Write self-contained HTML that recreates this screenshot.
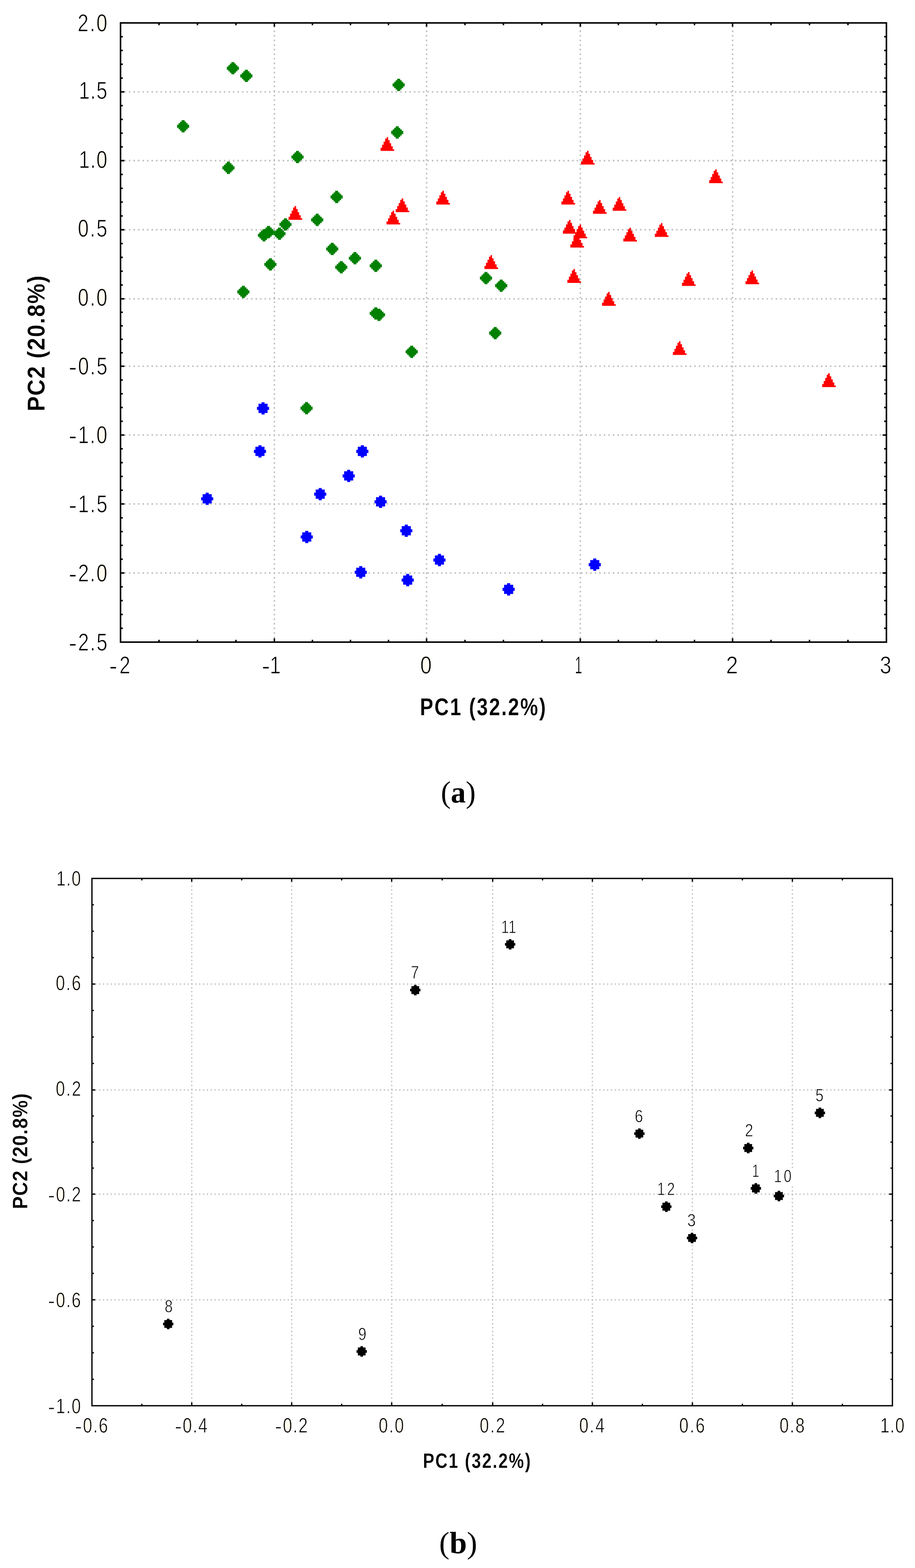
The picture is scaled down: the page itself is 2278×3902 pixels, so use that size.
<!DOCTYPE html>
<html lang="en"><head><meta charset="utf-8"><title>PCA score and loading plots</title>
<style>
html,body{margin:0;padding:0;background:#ffffff;}
body{width:2278px;height:3902px;}
svg{display:block;}
.t{font-family:"Liberation Sans",sans-serif;fill:#000;}
.tb{font-family:"Liberation Sans",sans-serif;font-weight:bold;fill:#000;}
.cap{font-family:"Liberation Serif",serif;fill:#000;}
.g{stroke:#c0c0c0;fill:none;}
.k{fill:#000;}
</style></head>
<body>
<svg width="2278" height="3902" viewBox="0 0 2278 3902">
<rect x="0" y="0" width="2278" height="3902" fill="#ffffff"/>
<g id="plot-a">
<line class="g" x1="309.58" y1="228.6" x2="2204.95" y2="228.6" stroke-width="3.81" stroke-dasharray="3.77 7.49"/>
<line class="g" x1="309.58" y1="399.75" x2="2204.95" y2="399.75" stroke-width="3.81" stroke-dasharray="3.77 7.49"/>
<line class="g" x1="309.58" y1="571.75" x2="2204.95" y2="571.75" stroke-width="3.81" stroke-dasharray="3.77 7.49"/>
<line class="g" x1="309.58" y1="743.65" x2="2204.95" y2="743.65" stroke-width="3.81" stroke-dasharray="3.77 7.49"/>
<line class="g" x1="309.58" y1="911.4" x2="2204.95" y2="911.4" stroke-width="3.81" stroke-dasharray="3.77 7.49"/>
<line class="g" x1="309.58" y1="1082.6" x2="2204.95" y2="1082.6" stroke-width="3.81" stroke-dasharray="3.77 7.49"/>
<line class="g" x1="309.58" y1="1254.2" x2="2204.95" y2="1254.2" stroke-width="3.81" stroke-dasharray="3.77 7.49"/>
<line class="g" x1="309.58" y1="1425.9" x2="2204.95" y2="1425.9" stroke-width="3.81" stroke-dasharray="3.77 7.49"/>
<line class="g" x1="683.1" y1="1588.43" x2="683.1" y2="58.93" stroke-width="3.77" stroke-dasharray="3.81 7.62"/>
<line class="g" x1="1062" y1="1588.43" x2="1062" y2="58.93" stroke-width="3.77" stroke-dasharray="3.81 7.62"/>
<line class="g" x1="1444.75" y1="1588.43" x2="1444.75" y2="58.93" stroke-width="3.77" stroke-dasharray="3.81 7.62"/>
<line class="g" x1="1823.8" y1="1588.43" x2="1823.8" y2="58.93" stroke-width="3.77" stroke-dasharray="3.81 7.62"/>
<rect x="300.08" y="57.03" width="1906.76" height="1540.9" fill="none" stroke="#000" stroke-width="3.8"/>
<path class="k" d="M300.08 226.7h9.5v3.8h-9.5zM2206.85 226.7h-9.5v3.8h9.5zM300.08 397.85h9.5v3.8h-9.5zM2206.85 397.85h-9.5v3.8h9.5zM300.08 569.85h9.5v3.8h-9.5zM2206.85 569.85h-9.5v3.8h9.5zM300.08 741.75h9.5v3.8h-9.5zM2206.85 741.75h-9.5v3.8h9.5zM300.08 909.5h9.5v3.8h-9.5zM2206.85 909.5h-9.5v3.8h9.5zM300.08 1080.7h9.5v3.8h-9.5zM2206.85 1080.7h-9.5v3.8h9.5zM300.08 1252.3h9.5v3.8h-9.5zM2206.85 1252.3h-9.5v3.8h9.5zM300.08 1424h9.5v3.8h-9.5zM2206.85 1424h-9.5v3.8h9.5zM300.08 89.44h5.7v3.8h-5.7zM2206.85 89.44h-5.7v3.8h5.7zM300.08 123.76h5.7v3.8h-5.7zM2206.85 123.76h-5.7v3.8h5.7zM300.08 158.07h5.7v3.8h-5.7zM2206.85 158.07h-5.7v3.8h5.7zM300.08 192.39h5.7v3.8h-5.7zM2206.85 192.39h-5.7v3.8h5.7zM300.08 260.93h5.7v3.8h-5.7zM2206.85 260.93h-5.7v3.8h5.7zM300.08 295.16h5.7v3.8h-5.7zM2206.85 295.16h-5.7v3.8h5.7zM300.08 329.39h5.7v3.8h-5.7zM2206.85 329.39h-5.7v3.8h5.7zM300.08 363.62h5.7v3.8h-5.7zM2206.85 363.62h-5.7v3.8h5.7zM300.08 432.25h5.7v3.8h-5.7zM2206.85 432.25h-5.7v3.8h5.7zM300.08 466.65h5.7v3.8h-5.7zM2206.85 466.65h-5.7v3.8h5.7zM300.08 501.05h5.7v3.8h-5.7zM2206.85 501.05h-5.7v3.8h5.7zM300.08 535.45h5.7v3.8h-5.7zM2206.85 535.45h-5.7v3.8h5.7zM300.08 604.23h5.7v3.8h-5.7zM2206.85 604.23h-5.7v3.8h5.7zM300.08 638.61h5.7v3.8h-5.7zM2206.85 638.61h-5.7v3.8h5.7zM300.08 672.99h5.7v3.8h-5.7zM2206.85 672.99h-5.7v3.8h5.7zM300.08 707.37h5.7v3.8h-5.7zM2206.85 707.37h-5.7v3.8h5.7zM300.08 775.3h5.7v3.8h-5.7zM2206.85 775.3h-5.7v3.8h5.7zM300.08 808.85h5.7v3.8h-5.7zM2206.85 808.85h-5.7v3.8h5.7zM300.08 842.4h5.7v3.8h-5.7zM2206.85 842.4h-5.7v3.8h5.7zM300.08 875.95h5.7v3.8h-5.7zM2206.85 875.95h-5.7v3.8h5.7zM300.08 943.74h5.7v3.8h-5.7zM2206.85 943.74h-5.7v3.8h5.7zM300.08 977.98h5.7v3.8h-5.7zM2206.85 977.98h-5.7v3.8h5.7zM300.08 1012.22h5.7v3.8h-5.7zM2206.85 1012.22h-5.7v3.8h5.7zM300.08 1046.46h5.7v3.8h-5.7zM2206.85 1046.46h-5.7v3.8h5.7zM300.08 1115.02h5.7v3.8h-5.7zM2206.85 1115.02h-5.7v3.8h5.7zM300.08 1149.34h5.7v3.8h-5.7zM2206.85 1149.34h-5.7v3.8h5.7zM300.08 1183.66h5.7v3.8h-5.7zM2206.85 1183.66h-5.7v3.8h5.7zM300.08 1217.98h5.7v3.8h-5.7zM2206.85 1217.98h-5.7v3.8h5.7zM300.08 1286.64h5.7v3.8h-5.7zM2206.85 1286.64h-5.7v3.8h5.7zM300.08 1320.98h5.7v3.8h-5.7zM2206.85 1320.98h-5.7v3.8h5.7zM300.08 1355.32h5.7v3.8h-5.7zM2206.85 1355.32h-5.7v3.8h5.7zM300.08 1389.66h5.7v3.8h-5.7zM2206.85 1389.66h-5.7v3.8h5.7zM300.08 1458.41h5.7v3.8h-5.7zM2206.85 1458.41h-5.7v3.8h5.7zM300.08 1492.81h5.7v3.8h-5.7zM2206.85 1492.81h-5.7v3.8h5.7zM300.08 1527.22h5.7v3.8h-5.7zM2206.85 1527.22h-5.7v3.8h5.7zM300.08 1561.62h5.7v3.8h-5.7zM2206.85 1561.62h-5.7v3.8h5.7zM681.2 57.03v9.5h3.8v-9.5zM681.2 1597.93v-9.5h3.8v9.5zM1060.1 57.03v9.5h3.8v-9.5zM1060.1 1597.93v-9.5h3.8v9.5zM1442.85 57.03v9.5h3.8v-9.5zM1442.85 1597.93v-9.5h3.8v9.5zM1821.9 57.03v9.5h3.8v-9.5zM1821.9 1597.93v-9.5h3.8v9.5zM393.94 57.03v5.7h3.8v-5.7zM393.94 1597.93v-5.7h3.8v5.7zM489.69 57.03v5.7h3.8v-5.7zM489.69 1597.93v-5.7h3.8v5.7zM585.45 57.03v5.7h3.8v-5.7zM585.45 1597.93v-5.7h3.8v5.7zM775.93 57.03v5.7h3.8v-5.7zM775.93 1597.93v-5.7h3.8v5.7zM870.65 57.03v5.7h3.8v-5.7zM870.65 1597.93v-5.7h3.8v5.7zM965.38 57.03v5.7h3.8v-5.7zM965.38 1597.93v-5.7h3.8v5.7zM1155.79 57.03v5.7h3.8v-5.7zM1155.79 1597.93v-5.7h3.8v5.7zM1251.47 57.03v5.7h3.8v-5.7zM1251.47 1597.93v-5.7h3.8v5.7zM1347.16 57.03v5.7h3.8v-5.7zM1347.16 1597.93v-5.7h3.8v5.7zM1537.61 57.03v5.7h3.8v-5.7zM1537.61 1597.93v-5.7h3.8v5.7zM1632.38 57.03v5.7h3.8v-5.7zM1632.38 1597.93v-5.7h3.8v5.7zM1727.14 57.03v5.7h3.8v-5.7zM1727.14 1597.93v-5.7h3.8v5.7zM1917.66 57.03v5.7h3.8v-5.7zM1917.66 1597.93v-5.7h3.8v5.7zM2013.42 57.03v5.7h3.8v-5.7zM2013.42 1597.93v-5.7h3.8v5.7zM2109.19 57.03v5.7h3.8v-5.7zM2109.19 1597.93v-5.7h3.8v5.7z"/>
<path fill="#008000" d="M576.03 154.54h7.54v3.86h-7.54zM572.26 158.36h15.08v3.86h-15.08zM568.49 162.17h22.62v3.86h-22.62zM564.72 165.99h30.16v3.86h-30.16zM564.72 169.8h30.16v3.86h-30.16zM568.49 173.61h22.62v3.86h-22.62zM572.26 177.43h15.08v3.86h-15.08zM576.03 181.24h7.54v3.86h-7.54zM609.53 173.54h7.54v3.86h-7.54zM605.76 177.36h15.08v3.86h-15.08zM601.99 181.17h22.62v3.86h-22.62zM598.22 184.99h30.16v3.86h-30.16zM598.22 188.8h30.16v3.86h-30.16zM601.99 192.61h22.62v3.86h-22.62zM605.76 196.43h15.08v3.86h-15.08zM609.53 200.24h7.54v3.86h-7.54zM988.73 196.04h7.54v3.86h-7.54zM984.96 199.86h15.08v3.86h-15.08zM981.19 203.67h22.62v3.86h-22.62zM977.42 207.49h30.16v3.86h-30.16zM977.42 211.3h30.16v3.86h-30.16zM981.19 215.11h22.62v3.86h-22.62zM984.96 218.93h15.08v3.86h-15.08zM988.73 222.74h7.54v3.86h-7.54zM452.13 298.94h7.54v3.86h-7.54zM448.36 302.76h15.08v3.86h-15.08zM444.59 306.57h22.62v3.86h-22.62zM440.82 310.39h30.16v3.86h-30.16zM440.82 314.2h30.16v3.86h-30.16zM444.59 318.01h22.62v3.86h-22.62zM448.36 321.83h15.08v3.86h-15.08zM452.13 325.64h7.54v3.86h-7.54zM985.13 314.34h7.54v3.86h-7.54zM981.36 318.16h15.08v3.86h-15.08zM977.59 321.97h22.62v3.86h-22.62zM973.82 325.79h30.16v3.86h-30.16zM973.82 329.6h30.16v3.86h-30.16zM977.59 333.41h22.62v3.86h-22.62zM981.36 337.23h15.08v3.86h-15.08zM985.13 341.04h7.54v3.86h-7.54zM736.93 375.44h7.54v3.86h-7.54zM733.16 379.26h15.08v3.86h-15.08zM729.39 383.07h22.62v3.86h-22.62zM725.62 386.89h30.16v3.86h-30.16zM725.62 390.7h30.16v3.86h-30.16zM729.39 394.51h22.62v3.86h-22.62zM733.16 398.33h15.08v3.86h-15.08zM736.93 402.14h7.54v3.86h-7.54zM565.03 402.34h7.54v3.86h-7.54zM561.26 406.16h15.08v3.86h-15.08zM557.49 409.97h22.62v3.86h-22.62zM553.72 413.79h30.16v3.86h-30.16zM553.72 417.6h30.16v3.86h-30.16zM557.49 421.41h22.62v3.86h-22.62zM561.26 425.23h15.08v3.86h-15.08zM565.03 429.04h7.54v3.86h-7.54zM834.33 474.84h7.54v3.86h-7.54zM830.56 478.66h15.08v3.86h-15.08zM826.79 482.47h22.62v3.86h-22.62zM823.02 486.29h30.16v3.86h-30.16zM823.02 490.1h30.16v3.86h-30.16zM826.79 493.91h22.62v3.86h-22.62zM830.56 497.73h15.08v3.86h-15.08zM834.33 501.54h7.54v3.86h-7.54zM785.93 531.84h7.54v3.86h-7.54zM782.16 535.66h15.08v3.86h-15.08zM778.39 539.47h22.62v3.86h-22.62zM774.62 543.29h30.16v3.86h-30.16zM774.62 547.1h30.16v3.86h-30.16zM778.39 550.91h22.62v3.86h-22.62zM782.16 554.73h15.08v3.86h-15.08zM785.93 558.54h7.54v3.86h-7.54zM706.93 543.24h7.54v3.86h-7.54zM703.16 547.06h15.08v3.86h-15.08zM699.39 550.87h22.62v3.86h-22.62zM695.62 554.69h30.16v3.86h-30.16zM695.62 558.5h30.16v3.86h-30.16zM699.39 562.31h22.62v3.86h-22.62zM703.16 566.13h15.08v3.86h-15.08zM706.93 569.94h7.54v3.86h-7.54zM664.93 562.24h7.54v3.86h-7.54zM661.16 566.06h15.08v3.86h-15.08zM657.39 569.87h22.62v3.86h-22.62zM653.62 573.69h30.16v3.86h-30.16zM653.62 577.5h30.16v3.86h-30.16zM657.39 581.31h22.62v3.86h-22.62zM661.16 585.13h15.08v3.86h-15.08zM664.93 588.94h7.54v3.86h-7.54zM653.43 570.24h7.54v3.86h-7.54zM649.66 574.06h15.08v3.86h-15.08zM645.89 577.87h22.62v3.86h-22.62zM642.12 581.69h30.16v3.86h-30.16zM642.12 585.5h30.16v3.86h-30.16zM645.89 589.31h22.62v3.86h-22.62zM649.66 593.13h15.08v3.86h-15.08zM653.43 596.94h7.54v3.86h-7.54zM691.93 566.24h7.54v3.86h-7.54zM688.16 570.06h15.08v3.86h-15.08zM684.39 573.87h22.62v3.86h-22.62zM680.62 577.69h30.16v3.86h-30.16zM680.62 581.5h30.16v3.86h-30.16zM684.39 585.31h22.62v3.86h-22.62zM688.16 589.13h15.08v3.86h-15.08zM691.93 592.94h7.54v3.86h-7.54zM823.33 604.24h7.54v3.86h-7.54zM819.56 608.06h15.08v3.86h-15.08zM815.79 611.87h22.62v3.86h-22.62zM812.02 615.69h30.16v3.86h-30.16zM812.02 619.5h30.16v3.86h-30.16zM815.79 623.31h22.62v3.86h-22.62zM819.56 627.13h15.08v3.86h-15.08zM823.33 630.94h7.54v3.86h-7.54zM879.83 627.24h7.54v3.86h-7.54zM876.06 631.06h15.08v3.86h-15.08zM872.29 634.87h22.62v3.86h-22.62zM868.52 638.69h30.16v3.86h-30.16zM868.52 642.5h30.16v3.86h-30.16zM872.29 646.31h22.62v3.86h-22.62zM876.06 650.13h15.08v3.86h-15.08zM879.83 653.94h7.54v3.86h-7.54zM669.43 642.74h7.54v3.86h-7.54zM665.66 646.56h15.08v3.86h-15.08zM661.89 650.37h22.62v3.86h-22.62zM658.12 654.19h30.16v3.86h-30.16zM658.12 658h30.16v3.86h-30.16zM661.89 661.81h22.62v3.86h-22.62zM665.66 665.63h15.08v3.86h-15.08zM669.43 669.44h7.54v3.86h-7.54zM845.83 649.74h7.54v3.86h-7.54zM842.06 653.56h15.08v3.86h-15.08zM838.29 657.37h22.62v3.86h-22.62zM834.52 661.19h30.16v3.86h-30.16zM834.52 665h30.16v3.86h-30.16zM838.29 668.81h22.62v3.86h-22.62zM842.06 672.63h15.08v3.86h-15.08zM845.83 676.44h7.54v3.86h-7.54zM931.83 646.24h7.54v3.86h-7.54zM928.06 650.06h15.08v3.86h-15.08zM924.29 653.87h22.62v3.86h-22.62zM920.52 657.69h30.16v3.86h-30.16zM920.52 661.5h30.16v3.86h-30.16zM924.29 665.31h22.62v3.86h-22.62zM928.06 669.13h15.08v3.86h-15.08zM931.83 672.94h7.54v3.86h-7.54zM602.03 711.14h7.54v3.86h-7.54zM598.26 714.96h15.08v3.86h-15.08zM594.49 718.77h22.62v3.86h-22.62zM590.72 722.59h30.16v3.86h-30.16zM590.72 726.4h30.16v3.86h-30.16zM594.49 730.21h22.62v3.86h-22.62zM598.26 734.03h15.08v3.86h-15.08zM602.03 737.84h7.54v3.86h-7.54zM931.83 764.64h7.54v3.86h-7.54zM928.06 768.46h15.08v3.86h-15.08zM924.29 772.27h22.62v3.86h-22.62zM920.52 776.09h30.16v3.86h-30.16zM920.52 779.9h30.16v3.86h-30.16zM924.29 783.71h22.62v3.86h-22.62zM928.06 787.53h15.08v3.86h-15.08zM931.83 791.34h7.54v3.86h-7.54zM939.73 768.14h7.54v3.86h-7.54zM935.96 771.96h15.08v3.86h-15.08zM932.19 775.77h22.62v3.86h-22.62zM928.42 779.59h30.16v3.86h-30.16zM928.42 783.4h30.16v3.86h-30.16zM932.19 787.21h22.62v3.86h-22.62zM935.96 791.03h15.08v3.86h-15.08zM939.73 794.84h7.54v3.86h-7.54zM1206.13 676.74h7.54v3.86h-7.54zM1202.36 680.56h15.08v3.86h-15.08zM1198.59 684.37h22.62v3.86h-22.62zM1194.82 688.19h30.16v3.86h-30.16zM1194.82 692h30.16v3.86h-30.16zM1198.59 695.81h22.62v3.86h-22.62zM1202.36 699.63h15.08v3.86h-15.08zM1206.13 703.44h7.54v3.86h-7.54zM1244.03 695.64h7.54v3.86h-7.54zM1240.26 699.46h15.08v3.86h-15.08zM1236.49 703.27h22.62v3.86h-22.62zM1232.72 707.09h30.16v3.86h-30.16zM1232.72 710.9h30.16v3.86h-30.16zM1236.49 714.71h22.62v3.86h-22.62zM1240.26 718.53h15.08v3.86h-15.08zM1244.03 722.34h7.54v3.86h-7.54zM1229.13 813.64h7.54v3.86h-7.54zM1225.36 817.46h15.08v3.86h-15.08zM1221.59 821.27h22.62v3.86h-22.62zM1217.82 825.09h30.16v3.86h-30.16zM1217.82 828.9h30.16v3.86h-30.16zM1221.59 832.71h22.62v3.86h-22.62zM1225.36 836.53h15.08v3.86h-15.08zM1229.13 840.34h7.54v3.86h-7.54zM1021.23 860.14h7.54v3.86h-7.54zM1017.46 863.96h15.08v3.86h-15.08zM1013.69 867.77h22.62v3.86h-22.62zM1009.92 871.59h30.16v3.86h-30.16zM1009.92 875.4h30.16v3.86h-30.16zM1013.69 879.21h22.62v3.86h-22.62zM1017.46 883.03h15.08v3.86h-15.08zM1021.23 886.84h7.54v3.86h-7.54zM759.43 1000.54h7.54v3.86h-7.54zM755.66 1004.36h15.08v3.86h-15.08zM751.89 1008.17h22.62v3.86h-22.62zM748.12 1011.99h30.16v3.86h-30.16zM748.12 1015.8h30.16v3.86h-30.16zM751.89 1019.61h22.62v3.86h-22.62zM755.66 1023.43h15.08v3.86h-15.08zM759.43 1027.24h7.54v3.86h-7.54z"/>
<path fill="#ff0000" d="M962.57 341.13h3.77v3.86h-3.77zM958.79 344.95h7.54v3.86h-7.54zM958.79 348.76h11.31v3.86h-11.31zM955.02 352.58h15.08v3.86h-15.08zM955.02 356.39h18.85v3.86h-18.85zM951.25 360.21h22.62v3.86h-22.62zM951.25 364.02h26.39v3.86h-26.39zM947.49 367.84h30.16v3.86h-30.16zM947.49 371.65h33.93v3.86h-33.93zM733.51 512.73h3.77v3.86h-3.77zM729.74 516.55h7.54v3.86h-7.54zM729.74 520.36h11.31v3.86h-11.31zM725.97 524.18h15.08v3.86h-15.08zM725.97 527.99h18.85v3.86h-18.85zM722.2 531.81h22.62v3.86h-22.62zM722.2 535.62h26.39v3.86h-26.39zM718.43 539.44h30.16v3.86h-30.16zM718.43 543.25h33.93v3.86h-33.93zM1000.12 493.73h3.77v3.86h-3.77zM996.34 497.55h7.54v3.86h-7.54zM996.34 501.36h11.31v3.86h-11.31zM992.57 505.18h15.08v3.86h-15.08zM992.57 508.99h18.85v3.86h-18.85zM988.8 512.81h22.62v3.86h-22.62zM988.8 516.62h26.39v3.86h-26.39zM985.03 520.44h30.16v3.86h-30.16zM985.03 524.25h33.93v3.86h-33.93zM977.41 524.23h3.77v3.86h-3.77zM973.64 528.05h7.54v3.86h-7.54zM973.64 531.86h11.31v3.86h-11.31zM969.87 535.68h15.08v3.86h-15.08zM969.87 539.49h18.85v3.86h-18.85zM966.1 543.31h22.62v3.86h-22.62zM966.1 547.12h26.39v3.86h-26.39zM962.33 550.94h30.16v3.86h-30.16zM962.33 554.75h33.93v3.86h-33.93zM1461.52 375.23h3.77v3.86h-3.77zM1457.75 379.05h7.54v3.86h-7.54zM1457.75 382.86h11.31v3.86h-11.31zM1453.98 386.68h15.08v3.86h-15.08zM1453.98 390.49h18.85v3.86h-18.85zM1450.21 394.31h22.62v3.86h-22.62zM1450.21 398.12h26.39v3.86h-26.39zM1446.44 401.94h30.16v3.86h-30.16zM1446.44 405.75h33.93v3.86h-33.93zM1101.32 474.63h3.77v3.86h-3.77zM1097.55 478.45h7.54v3.86h-7.54zM1097.55 482.26h11.31v3.86h-11.31zM1093.78 486.08h15.08v3.86h-15.08zM1093.78 489.89h18.85v3.86h-18.85zM1090.01 493.71h22.62v3.86h-22.62zM1090.01 497.52h26.39v3.86h-26.39zM1086.24 501.34h30.16v3.86h-30.16zM1086.24 505.15h33.93v3.86h-33.93zM1412.82 474.63h3.77v3.86h-3.77zM1409.05 478.45h7.54v3.86h-7.54zM1409.05 482.26h11.31v3.86h-11.31zM1405.28 486.08h15.08v3.86h-15.08zM1405.28 489.89h18.85v3.86h-18.85zM1401.51 493.71h22.62v3.86h-22.62zM1401.51 497.52h26.39v3.86h-26.39zM1397.74 501.34h30.16v3.86h-30.16zM1397.74 505.15h33.93v3.86h-33.93zM1491.52 497.63h3.77v3.86h-3.77zM1487.75 501.45h7.54v3.86h-7.54zM1487.75 505.26h11.31v3.86h-11.31zM1483.98 509.08h15.08v3.86h-15.08zM1483.98 512.89h18.85v3.86h-18.85zM1480.21 516.71h22.62v3.86h-22.62zM1480.21 520.52h26.39v3.86h-26.39zM1476.44 524.34h30.16v3.86h-30.16zM1476.44 528.15h33.93v3.86h-33.93zM1540.52 490.13h3.77v3.86h-3.77zM1536.75 493.95h7.54v3.86h-7.54zM1536.75 497.76h11.31v3.86h-11.31zM1532.98 501.58h15.08v3.86h-15.08zM1532.98 505.39h18.85v3.86h-18.85zM1529.21 509.21h22.62v3.86h-22.62zM1529.21 513.02h26.39v3.86h-26.39zM1525.44 516.84h30.16v3.86h-30.16zM1525.44 520.65h33.93v3.86h-33.93zM1416.62 547.13h3.77v3.86h-3.77zM1412.85 550.95h7.54v3.86h-7.54zM1412.85 554.76h11.31v3.86h-11.31zM1409.08 558.58h15.08v3.86h-15.08zM1409.08 562.39h18.85v3.86h-18.85zM1405.31 566.21h22.62v3.86h-22.62zM1405.31 570.02h26.39v3.86h-26.39zM1401.54 573.84h30.16v3.86h-30.16zM1401.54 577.65h33.93v3.86h-33.93zM1443.12 558.63h3.77v3.86h-3.77zM1439.35 562.45h7.54v3.86h-7.54zM1439.35 566.26h11.31v3.86h-11.31zM1435.58 570.08h15.08v3.86h-15.08zM1435.58 573.89h18.85v3.86h-18.85zM1431.81 577.71h22.62v3.86h-22.62zM1431.81 581.52h26.39v3.86h-26.39zM1428.04 585.34h30.16v3.86h-30.16zM1428.04 589.15h33.93v3.86h-33.93zM1435.12 581.63h3.77v3.86h-3.77zM1431.35 585.45h7.54v3.86h-7.54zM1431.35 589.26h11.31v3.86h-11.31zM1427.58 593.08h15.08v3.86h-15.08zM1427.58 596.89h18.85v3.86h-18.85zM1423.81 600.71h22.62v3.86h-22.62zM1423.81 604.52h26.39v3.86h-26.39zM1420.04 608.34h30.16v3.86h-30.16zM1420.04 612.15h33.93v3.86h-33.93zM1567.02 566.63h3.77v3.86h-3.77zM1563.25 570.45h7.54v3.86h-7.54zM1563.25 574.26h11.31v3.86h-11.31zM1559.48 578.08h15.08v3.86h-15.08zM1559.48 581.89h18.85v3.86h-18.85zM1555.71 585.71h22.62v3.86h-22.62zM1555.71 589.52h26.39v3.86h-26.39zM1551.94 593.34h30.16v3.86h-30.16zM1551.94 597.15h33.93v3.86h-33.93zM1645.41 555.13h3.77v3.86h-3.77zM1641.64 558.95h7.54v3.86h-7.54zM1641.64 562.76h11.31v3.86h-11.31zM1637.88 566.58h15.08v3.86h-15.08zM1637.88 570.39h18.85v3.86h-18.85zM1634.11 574.21h22.62v3.86h-22.62zM1634.11 578.02h26.39v3.86h-26.39zM1630.34 581.84h30.16v3.86h-30.16zM1630.34 585.65h33.93v3.86h-33.93zM1221.21 635.03h3.77v3.86h-3.77zM1217.44 638.85h7.54v3.86h-7.54zM1217.44 642.66h11.31v3.86h-11.31zM1213.67 646.48h15.08v3.86h-15.08zM1213.67 650.29h18.85v3.86h-18.85zM1209.9 654.11h22.62v3.86h-22.62zM1209.9 657.92h26.39v3.86h-26.39zM1206.13 661.74h30.16v3.86h-30.16zM1206.13 665.55h33.93v3.86h-33.93zM1427.62 669.53h3.77v3.86h-3.77zM1423.85 673.35h7.54v3.86h-7.54zM1423.85 677.16h11.31v3.86h-11.31zM1420.08 680.98h15.08v3.86h-15.08zM1420.08 684.79h18.85v3.86h-18.85zM1416.31 688.61h22.62v3.86h-22.62zM1416.31 692.42h26.39v3.86h-26.39zM1412.54 696.24h30.16v3.86h-30.16zM1412.54 700.05h33.93v3.86h-33.93zM1712.91 677.03h3.77v3.86h-3.77zM1709.14 680.85h7.54v3.86h-7.54zM1709.14 684.66h11.31v3.86h-11.31zM1705.38 688.48h15.08v3.86h-15.08zM1705.38 692.29h18.85v3.86h-18.85zM1701.61 696.11h22.62v3.86h-22.62zM1701.61 699.92h26.39v3.86h-26.39zM1697.84 703.74h30.16v3.86h-30.16zM1697.84 707.55h33.93v3.86h-33.93zM1514.02 726.53h3.77v3.86h-3.77zM1510.25 730.35h7.54v3.86h-7.54zM1510.25 734.16h11.31v3.86h-11.31zM1506.48 737.98h15.08v3.86h-15.08zM1506.48 741.79h18.85v3.86h-18.85zM1502.71 745.61h22.62v3.86h-22.62zM1502.71 749.42h26.39v3.86h-26.39zM1498.94 753.24h30.16v3.86h-30.16zM1498.94 757.05h33.93v3.86h-33.93zM1780.62 421.43h3.77v3.86h-3.77zM1776.85 425.25h7.54v3.86h-7.54zM1776.85 429.06h11.31v3.86h-11.31zM1773.08 432.88h15.08v3.86h-15.08zM1773.08 436.69h18.85v3.86h-18.85zM1769.31 440.51h22.62v3.86h-22.62zM1769.31 444.32h26.39v3.86h-26.39zM1765.54 448.14h30.16v3.86h-30.16zM1765.54 451.95h33.93v3.86h-33.93zM1690.41 848.93h3.77v3.86h-3.77zM1686.64 852.75h7.54v3.86h-7.54zM1686.64 856.56h11.31v3.86h-11.31zM1682.88 860.38h15.08v3.86h-15.08zM1682.88 864.19h18.85v3.86h-18.85zM1679.11 868.01h22.62v3.86h-22.62zM1679.11 871.82h26.39v3.86h-26.39zM1675.34 875.64h30.16v3.86h-30.16zM1675.34 879.45h33.93v3.86h-33.93zM1871.02 672.93h3.77v3.86h-3.77zM1867.25 676.75h7.54v3.86h-7.54zM1867.25 680.56h11.31v3.86h-11.31zM1863.48 684.38h15.08v3.86h-15.08zM1863.48 688.19h18.85v3.86h-18.85zM1859.71 692.01h22.62v3.86h-22.62zM1859.71 695.82h26.39v3.86h-26.39zM1855.94 699.64h30.16v3.86h-30.16zM1855.94 703.45h33.93v3.86h-33.93zM2062.02 928.93h3.77v3.86h-3.77zM2058.25 932.75h7.54v3.86h-7.54zM2058.25 936.56h11.31v3.86h-11.31zM2054.48 940.38h15.08v3.86h-15.08zM2054.48 944.19h18.85v3.86h-18.85zM2050.71 948.01h22.62v3.86h-22.62zM2050.71 951.82h26.39v3.86h-26.39zM2046.94 955.64h30.16v3.86h-30.16zM2046.94 959.45h33.93v3.86h-33.93z"/>
<path fill="#0000ff" d="M651.1 1000.99h7.54v3.86h-7.54zM643.56 1004.81h22.62v3.86h-22.62zM643.56 1008.62h22.62v3.86h-22.62zM639.79 1012.44h30.16v3.86h-30.16zM639.79 1016.25h30.16v3.86h-30.16zM643.56 1020.06h22.62v3.86h-22.62zM643.56 1023.88h22.62v3.86h-22.62zM651.1 1027.69h7.54v3.86h-7.54zM643.43 1108.04h7.54v3.86h-7.54zM635.89 1111.86h22.62v3.86h-22.62zM635.89 1115.67h22.62v3.86h-22.62zM632.12 1119.49h30.16v3.86h-30.16zM632.12 1123.3h30.16v3.86h-30.16zM635.89 1127.11h22.62v3.86h-22.62zM635.89 1130.93h22.62v3.86h-22.62zM643.43 1134.74h7.54v3.86h-7.54zM898.33 1108.04h7.54v3.86h-7.54zM890.79 1111.86h22.62v3.86h-22.62zM890.79 1115.67h22.62v3.86h-22.62zM887.02 1119.49h30.16v3.86h-30.16zM887.02 1123.3h30.16v3.86h-30.16zM890.79 1127.11h22.62v3.86h-22.62zM890.79 1130.93h22.62v3.86h-22.62zM898.33 1134.74h7.54v3.86h-7.54zM864.33 1169.04h7.54v3.86h-7.54zM856.79 1172.86h22.62v3.86h-22.62zM856.79 1176.67h22.62v3.86h-22.62zM853.02 1180.49h30.16v3.86h-30.16zM853.02 1184.3h30.16v3.86h-30.16zM856.79 1188.11h22.62v3.86h-22.62zM856.79 1191.93h22.62v3.86h-22.62zM864.33 1195.74h7.54v3.86h-7.54zM793.43 1214.44h7.54v3.86h-7.54zM785.89 1218.26h22.62v3.86h-22.62zM785.89 1222.07h22.62v3.86h-22.62zM782.12 1225.89h30.16v3.86h-30.16zM782.12 1229.7h30.16v3.86h-30.16zM785.89 1233.51h22.62v3.86h-22.62zM785.89 1237.33h22.62v3.86h-22.62zM793.43 1241.14h7.54v3.86h-7.54zM512.03 1225.94h7.54v3.86h-7.54zM504.49 1229.76h22.62v3.86h-22.62zM504.49 1233.57h22.62v3.86h-22.62zM500.72 1237.39h30.16v3.86h-30.16zM500.72 1241.2h30.16v3.86h-30.16zM504.49 1245.01h22.62v3.86h-22.62zM504.49 1248.83h22.62v3.86h-22.62zM512.03 1252.64h7.54v3.86h-7.54zM943.73 1233.44h7.54v3.86h-7.54zM936.19 1237.26h22.62v3.86h-22.62zM936.19 1241.07h22.62v3.86h-22.62zM932.42 1244.89h30.16v3.86h-30.16zM932.42 1248.7h30.16v3.86h-30.16zM936.19 1252.51h22.62v3.86h-22.62zM936.19 1256.33h22.62v3.86h-22.62zM943.73 1260.14h7.54v3.86h-7.54zM1007.73 1305.44h7.54v3.86h-7.54zM1000.19 1309.26h22.62v3.86h-22.62zM1000.19 1313.07h22.62v3.86h-22.62zM996.42 1316.89h30.16v3.86h-30.16zM996.42 1320.7h30.16v3.86h-30.16zM1000.19 1324.51h22.62v3.86h-22.62zM1000.19 1328.33h22.62v3.86h-22.62zM1007.73 1332.14h7.54v3.86h-7.54zM759.93 1320.94h7.54v3.86h-7.54zM752.39 1324.76h22.62v3.86h-22.62zM752.39 1328.57h22.62v3.86h-22.62zM748.62 1332.39h30.16v3.86h-30.16zM748.62 1336.2h30.16v3.86h-30.16zM752.39 1340.01h22.62v3.86h-22.62zM752.39 1343.83h22.62v3.86h-22.62zM759.93 1347.64h7.54v3.86h-7.54zM894.33 1408.84h7.54v3.86h-7.54zM886.79 1412.66h22.62v3.86h-22.62zM886.79 1416.47h22.62v3.86h-22.62zM883.02 1420.29h30.16v3.86h-30.16zM883.02 1424.1h30.16v3.86h-30.16zM886.79 1427.91h22.62v3.86h-22.62zM886.79 1431.73h22.62v3.86h-22.62zM894.33 1435.54h7.54v3.86h-7.54zM1011.23 1428.34h7.54v3.86h-7.54zM1003.69 1432.16h22.62v3.86h-22.62zM1003.69 1435.97h22.62v3.86h-22.62zM999.92 1439.79h30.16v3.86h-30.16zM999.92 1443.6h30.16v3.86h-30.16zM1003.69 1447.41h22.62v3.86h-22.62zM1003.69 1451.23h22.62v3.86h-22.62zM1011.23 1455.04h7.54v3.86h-7.54zM1090.23 1378.34h7.54v3.86h-7.54zM1082.69 1382.16h22.62v3.86h-22.62zM1082.69 1385.97h22.62v3.86h-22.62zM1078.92 1389.79h30.16v3.86h-30.16zM1078.92 1393.6h30.16v3.86h-30.16zM1082.69 1397.41h22.62v3.86h-22.62zM1082.69 1401.23h22.62v3.86h-22.62zM1090.23 1405.04h7.54v3.86h-7.54zM1262.53 1451.34h7.54v3.86h-7.54zM1254.99 1455.16h22.62v3.86h-22.62zM1254.99 1458.97h22.62v3.86h-22.62zM1251.22 1462.79h30.16v3.86h-30.16zM1251.22 1466.6h30.16v3.86h-30.16zM1254.99 1470.41h22.62v3.86h-22.62zM1254.99 1474.23h22.62v3.86h-22.62zM1262.53 1478.04h7.54v3.86h-7.54zM1476.93 1389.84h7.54v3.86h-7.54zM1469.39 1393.66h22.62v3.86h-22.62zM1469.39 1397.47h22.62v3.86h-22.62zM1465.62 1401.29h30.16v3.86h-30.16zM1465.62 1405.1h30.16v3.86h-30.16zM1469.39 1408.91h22.62v3.86h-22.62zM1469.39 1412.73h22.62v3.86h-22.62zM1476.93 1416.54h7.54v3.86h-7.54z"/>
<g transform="translate(193.26 77.9) scale(0.7900 1)"><ellipse cx="76.37" cy="-21.29" rx="11.73" ry="18.51" fill="#fffbf0"/><text class="t" font-size="61.71" letter-spacing="3.87" stroke="#fff" stroke-width="1.2">2.<tspan stroke="#fffbf0">0</tspan></text></g>
<text class="t" font-size="61.71" letter-spacing="2.05" stroke="#fff" stroke-width="1.2" transform="translate(196.14 246) scale(0.7900 1)">1.5</text>
<g transform="translate(196.14 417.5) scale(0.7900 1)"><ellipse cx="72.73" cy="-21.29" rx="11.73" ry="18.51" fill="#fffbf0"/><text class="t" font-size="61.71" letter-spacing="2.05" stroke="#fff" stroke-width="1.2">1.<tspan stroke="#fffbf0">0</tspan></text></g>
<g transform="translate(193.75 589) scale(0.7900 1)"><ellipse cx="17.16" cy="-21.29" rx="11.73" ry="18.51" fill="#fffbf0"/><text class="t" font-size="61.71" letter-spacing="3.56" stroke="#fff" stroke-width="1.2"><tspan stroke="#fffbf0">0</tspan>.5</text></g>
<g transform="translate(193.75 760.9) scale(0.7900 1)"><ellipse cx="17.16" cy="-21.29" rx="11.73" ry="18.51" fill="#fffbf0"/><ellipse cx="75.76" cy="-21.29" rx="11.73" ry="18.51" fill="#fffbf0"/><text class="t" font-size="61.71" letter-spacing="3.56" stroke="#fff" stroke-width="1.2"><tspan stroke="#fffbf0">0</tspan>.<tspan stroke="#fffbf0">0</tspan></text></g>
<g transform="translate(170.67 931.6) scale(0.7900 1)"><ellipse cx="47.01" cy="-21.29" rx="11.73" ry="18.51" fill="#fffbf0"/><text class="t" font-size="61.71" letter-spacing="3.34" stroke="#fff" stroke-width="1.2"><tspan letter-spacing="0" dy="2.16" textLength="26.51" lengthAdjust="spacingAndGlyphs">-</tspan><tspan dx="3.34" dy="-2.16"><tspan stroke="#fffbf0">0</tspan>.5</tspan></text></g>
<g transform="translate(170.67 1103.3) scale(0.7900 1)"><ellipse cx="104.85" cy="-21.29" rx="11.73" ry="18.51" fill="#fffbf0"/><text class="t" font-size="61.71" letter-spacing="3.24" stroke="#fff" stroke-width="1.2"><tspan letter-spacing="0" dy="2.16" textLength="26.51" lengthAdjust="spacingAndGlyphs">-</tspan><tspan dx="3.24" dy="-2.16">1.<tspan stroke="#fffbf0">0</tspan></tspan></text></g>
<text class="t" font-size="61.71" letter-spacing="3.34" stroke="#fff" stroke-width="1.2" transform="translate(170.67 1275.35) scale(0.7900 1)"><tspan letter-spacing="0" dy="2.16" textLength="26.51" lengthAdjust="spacingAndGlyphs">-</tspan><tspan dx="3.34" dy="-2.16">1.5</tspan></text>
<g transform="translate(170.67 1446.85) scale(0.7900 1)"><ellipse cx="104.85" cy="-21.29" rx="11.73" ry="18.51" fill="#fffbf0"/><text class="t" font-size="61.71" letter-spacing="3.24" stroke="#fff" stroke-width="1.2"><tspan letter-spacing="0" dy="2.16" textLength="26.51" lengthAdjust="spacingAndGlyphs">-</tspan><tspan dx="3.24" dy="-2.16">2.<tspan stroke="#fffbf0">0</tspan></tspan></text></g>
<text class="t" font-size="61.71" letter-spacing="3.34" stroke="#fff" stroke-width="1.2" transform="translate(170.67 1618.8) scale(0.7900 1)"><tspan letter-spacing="0" dy="2.16" textLength="26.51" lengthAdjust="spacingAndGlyphs">-</tspan><tspan dx="3.34" dy="-2.16">2.5</tspan></text>
<text class="t" font-size="61.71" letter-spacing="6.04" stroke="#fff" stroke-width="1.2" transform="translate(271.57 1676) scale(0.7900 1)"><tspan letter-spacing="0" dy="2.16" textLength="26.51" lengthAdjust="spacingAndGlyphs">-</tspan><tspan dx="6.04" dy="-2.16">2</tspan></text>
<text class="t" font-size="61.71" letter-spacing="-0.8" stroke="#fff" stroke-width="1.2" transform="translate(651.47 1676) scale(0.7900 1)"><tspan letter-spacing="0" dy="2.16" textLength="26.51" lengthAdjust="spacingAndGlyphs">-</tspan><tspan dx="-0.8" dy="-2.16">1</tspan></text>
<g transform="translate(1046.35 1676) scale(0.8324 1)"><ellipse cx="17.16" cy="-21.29" rx="11.73" ry="18.51" fill="#fffbf0"/><text class="t" font-size="61.71" stroke="#fff" stroke-width="1.2"><tspan stroke="#fffbf0">0</tspan></text></g>
<text class="t" font-size="61.71" stroke="#fff" stroke-width="1.2" transform="translate(1431.24 1676) scale(0.5313 1)">1</text>
<text class="t" font-size="61.71" stroke="#fff" stroke-width="1.2" transform="translate(1807.42 1676) scale(0.8689 1)">2</text>
<text class="t" font-size="61.71" stroke="#fff" stroke-width="1.2" transform="translate(2190.53 1676) scale(0.8378 1)">3</text>
<text class="tb" font-size="60.57" letter-spacing="3.54" stroke="#fff" stroke-width="0.4" transform="translate(1045.47 1779.7) scale(0.8200 1)">PC1 (32.2%)</text>
<text class="tb" font-size="60.57" letter-spacing="1.73" stroke="#fff" stroke-width="0.4" transform="translate(111 1023.86) rotate(-90) scale(0.9300 1)">PC2 (20.8%)</text>
</g>
<text class="cap" font-size="77" transform="translate(1097.44 1996.8) scale(0.9689 1)">(<tspan font-weight="bold">a</tspan>)</text>
<g id="plot-b">
<line class="g" x1="237.03" y1="2448.8" x2="2220.18" y2="2448.8" stroke-width="3.25" stroke-dasharray="3.2 6.38"/>
<line class="g" x1="237.03" y1="2712.3" x2="2220.18" y2="2712.3" stroke-width="3.25" stroke-dasharray="3.2 6.38"/>
<line class="g" x1="237.03" y1="2971.7" x2="2220.18" y2="2971.7" stroke-width="3.25" stroke-dasharray="3.2 6.38"/>
<line class="g" x1="237.03" y1="3234.7" x2="2220.18" y2="3234.7" stroke-width="3.25" stroke-dasharray="3.2 6.38"/>
<line class="g" x1="477.35" y1="3490.07" x2="477.35" y2="2187.62" stroke-width="3.2" stroke-dasharray="3.25 6.47"/>
<line class="g" x1="726.15" y1="3490.07" x2="726.15" y2="2187.62" stroke-width="3.2" stroke-dasharray="3.25 6.47"/>
<line class="g" x1="975.1" y1="3490.07" x2="975.1" y2="2187.62" stroke-width="3.2" stroke-dasharray="3.25 6.47"/>
<line class="g" x1="1226.6" y1="3490.07" x2="1226.6" y2="2187.62" stroke-width="3.2" stroke-dasharray="3.25 6.47"/>
<line class="g" x1="1474.85" y1="3490.07" x2="1474.85" y2="2187.62" stroke-width="3.2" stroke-dasharray="3.25 6.47"/>
<line class="g" x1="1723.8" y1="3490.07" x2="1723.8" y2="2187.62" stroke-width="3.2" stroke-dasharray="3.25 6.47"/>
<line class="g" x1="1972.75" y1="3490.07" x2="1972.75" y2="2187.62" stroke-width="3.2" stroke-dasharray="3.25 6.47"/>
<rect x="228.9" y="2186" width="1992.9" height="1312.2" fill="none" stroke="#000" stroke-width="3.25"/>
<path class="k" d="M228.9 2447.18h8.12v3.25h-8.12zM2221.8 2447.18h-8.12v3.25h8.12zM228.9 2710.68h8.12v3.25h-8.12zM2221.8 2710.68h-8.12v3.25h8.12zM228.9 2970.07h8.12v3.25h-8.12zM2221.8 2970.07h-8.12v3.25h8.12zM228.9 3233.07h8.12v3.25h-8.12zM2221.8 3233.07h-8.12v3.25h8.12zM228.9 2250.07h4.88v3.25h-4.88zM2221.8 2250.07h-4.88v3.25h4.88zM228.9 2315.78h4.88v3.25h-4.88zM2221.8 2315.78h-4.88v3.25h4.88zM228.9 2381.48h4.88v3.25h-4.88zM2221.8 2381.48h-4.88v3.25h4.88zM228.9 2513.05h4.88v3.25h-4.88zM2221.8 2513.05h-4.88v3.25h4.88zM228.9 2578.93h4.88v3.25h-4.88zM2221.8 2578.93h-4.88v3.25h4.88zM228.9 2644.8h4.88v3.25h-4.88zM2221.8 2644.8h-4.88v3.25h4.88zM228.9 2775.53h4.88v3.25h-4.88zM2221.8 2775.53h-4.88v3.25h4.88zM228.9 2840.38h4.88v3.25h-4.88zM2221.8 2840.38h-4.88v3.25h4.88zM228.9 2905.22h4.88v3.25h-4.88zM2221.8 2905.22h-4.88v3.25h4.88zM228.9 3035.82h4.88v3.25h-4.88zM2221.8 3035.82h-4.88v3.25h4.88zM228.9 3101.57h4.88v3.25h-4.88zM2221.8 3101.57h-4.88v3.25h4.88zM228.9 3167.32h4.88v3.25h-4.88zM2221.8 3167.32h-4.88v3.25h4.88zM228.9 3298.95h4.88v3.25h-4.88zM2221.8 3298.95h-4.88v3.25h4.88zM228.9 3364.82h4.88v3.25h-4.88zM2221.8 3364.82h-4.88v3.25h4.88zM228.9 3430.7h4.88v3.25h-4.88zM2221.8 3430.7h-4.88v3.25h4.88zM475.73 2186v8.12h3.25v-8.12zM475.73 3498.2v-8.12h3.25v8.12zM724.52 2186v8.12h3.25v-8.12zM724.52 3498.2v-8.12h3.25v8.12zM973.48 2186v8.12h3.25v-8.12zM973.48 3498.2v-8.12h3.25v8.12zM1224.97 2186v8.12h3.25v-8.12zM1224.97 3498.2v-8.12h3.25v8.12zM1473.22 2186v8.12h3.25v-8.12zM1473.22 3498.2v-8.12h3.25v8.12zM1722.17 2186v8.12h3.25v-8.12zM1722.17 3498.2v-8.12h3.25v8.12zM1971.12 2186v8.12h3.25v-8.12zM1971.12 3498.2v-8.12h3.25v8.12zM351.5 2186v4.88h3.25v-4.88zM351.5 3498.2v-4.88h3.25v4.88zM600.12 2186v4.88h3.25v-4.88zM600.12 3498.2v-4.88h3.25v4.88zM849 2186v4.88h3.25v-4.88zM849 3498.2v-4.88h3.25v4.88zM1099.22 2186v4.88h3.25v-4.88zM1099.22 3498.2v-4.88h3.25v4.88zM1349.1 2186v4.88h3.25v-4.88zM1349.1 3498.2v-4.88h3.25v4.88zM1597.7 2186v4.88h3.25v-4.88zM1597.7 3498.2v-4.88h3.25v4.88zM1846.65 2186v4.88h3.25v-4.88zM1846.65 3498.2v-4.88h3.25v4.88zM2095.65 2186v4.88h3.25v-4.88zM2095.65 3498.2v-4.88h3.25v4.88z"/>
<path fill="#000000" d="M1030.69 2450.76h6.42v3.31h-6.42zM1024.27 2454.02h19.26v3.31h-19.26zM1024.27 2457.28h19.26v3.31h-19.26zM1021.06 2460.54h25.68v3.31h-25.68zM1021.06 2463.8h25.68v3.31h-25.68zM1024.27 2467.06h19.26v3.31h-19.26zM1024.27 2470.32h19.26v3.31h-19.26zM1030.69 2473.58h6.42v3.31h-6.42zM1266.79 2336.96h6.42v3.31h-6.42zM1260.37 2340.22h19.26v3.31h-19.26zM1260.37 2343.48h19.26v3.31h-19.26zM1257.16 2346.74h25.68v3.31h-25.68zM1257.16 2350h25.68v3.31h-25.68zM1260.37 2353.26h19.26v3.31h-19.26zM1260.37 2356.52h19.26v3.31h-19.26zM1266.79 2359.78h6.42v3.31h-6.42zM1588.59 2807.96h6.42v3.31h-6.42zM1582.17 2811.22h19.26v3.31h-19.26zM1582.17 2814.48h19.26v3.31h-19.26zM1578.96 2817.74h25.68v3.31h-25.68zM1578.96 2821h25.68v3.31h-25.68zM1582.17 2824.26h19.26v3.31h-19.26zM1582.17 2827.52h19.26v3.31h-19.26zM1588.59 2830.78h6.42v3.31h-6.42zM2037.99 2756.36h6.42v3.31h-6.42zM2031.57 2759.62h19.26v3.31h-19.26zM2031.57 2762.88h19.26v3.31h-19.26zM2028.36 2766.14h25.68v3.31h-25.68zM2028.36 2769.4h25.68v3.31h-25.68zM2031.57 2772.66h19.26v3.31h-19.26zM2031.57 2775.92h19.26v3.31h-19.26zM2037.99 2779.18h6.42v3.31h-6.42zM1859.59 2843.86h6.42v3.31h-6.42zM1853.17 2847.12h19.26v3.31h-19.26zM1853.17 2850.38h19.26v3.31h-19.26zM1849.96 2853.64h25.68v3.31h-25.68zM1849.96 2856.9h25.68v3.31h-25.68zM1853.17 2860.16h19.26v3.31h-19.26zM1853.17 2863.42h19.26v3.31h-19.26zM1859.59 2866.68h6.42v3.31h-6.42zM1878.59 2944.26h6.42v3.31h-6.42zM1872.17 2947.52h19.26v3.31h-19.26zM1872.17 2950.78h19.26v3.31h-19.26zM1868.96 2954.04h25.68v3.31h-25.68zM1868.96 2957.3h25.68v3.31h-25.68zM1872.17 2960.56h19.26v3.31h-19.26zM1872.17 2963.82h19.26v3.31h-19.26zM1878.59 2967.08h6.42v3.31h-6.42zM1935.99 2963.26h6.42v3.31h-6.42zM1929.57 2966.52h19.26v3.31h-19.26zM1929.57 2969.78h19.26v3.31h-19.26zM1926.36 2973.04h25.68v3.31h-25.68zM1926.36 2976.3h25.68v3.31h-25.68zM1929.57 2979.56h19.26v3.31h-19.26zM1929.57 2982.82h19.26v3.31h-19.26zM1935.99 2986.08h6.42v3.31h-6.42zM1655.69 2989.76h6.42v3.31h-6.42zM1649.27 2993.02h19.26v3.31h-19.26zM1649.27 2996.28h19.26v3.31h-19.26zM1646.06 2999.54h25.68v3.31h-25.68zM1646.06 3002.8h25.68v3.31h-25.68zM1649.27 3006.06h19.26v3.31h-19.26zM1649.27 3009.32h19.26v3.31h-19.26zM1655.69 3012.58h6.42v3.31h-6.42zM1719.69 3067.66h6.42v3.31h-6.42zM1713.27 3070.92h19.26v3.31h-19.26zM1713.27 3074.18h19.26v3.31h-19.26zM1710.06 3077.44h25.68v3.31h-25.68zM1710.06 3080.7h25.68v3.31h-25.68zM1713.27 3083.96h19.26v3.31h-19.26zM1713.27 3087.22h19.26v3.31h-19.26zM1719.69 3090.48h6.42v3.31h-6.42zM415.59 3281.66h6.42v3.31h-6.42zM409.17 3284.92h19.26v3.31h-19.26zM409.17 3288.18h19.26v3.31h-19.26zM405.96 3291.44h25.68v3.31h-25.68zM405.96 3294.7h25.68v3.31h-25.68zM409.17 3297.96h19.26v3.31h-19.26zM409.17 3301.22h19.26v3.31h-19.26zM415.59 3304.48h6.42v3.31h-6.42zM897.29 3350.06h6.42v3.31h-6.42zM890.87 3353.32h19.26v3.31h-19.26zM890.87 3356.58h19.26v3.31h-19.26zM887.66 3359.84h25.68v3.31h-25.68zM887.66 3363.1h25.68v3.31h-25.68zM890.87 3366.36h19.26v3.31h-19.26zM890.87 3369.62h19.26v3.31h-19.26zM897.29 3372.88h6.42v3.31h-6.42z"/>
<rect x="1926" y="2907" width="50.5" height="43" fill="#ffffff"/>
<text class="t" font-size="43.97" stroke="#fff" stroke-width="0.96" transform="translate(1022.56 2435.38) scale(0.8477 1)">7</text>
<text class="t" font-size="43.97" letter-spacing="1.49" stroke="#fff" stroke-width="0.96" transform="translate(1247.81 2321.58) scale(0.7900 1)">11</text>
<text class="t" font-size="43.97" stroke="#fff" stroke-width="0.96" transform="translate(1580.37 2792.58) scale(0.8434 1)">6</text>
<text class="t" font-size="43.97" stroke="#fff" stroke-width="0.96" transform="translate(2030.18 2740.98) scale(0.8168 1)">5</text>
<text class="t" font-size="43.97" stroke="#fff" stroke-width="0.96" transform="translate(1854.46 2828.48) scale(0.8477 1)">2</text>
<text class="t" font-size="43.97" stroke="#fff" stroke-width="0.96" transform="translate(1872.47 2928.88) scale(0.7119 1)">1</text>
<text class="t" font-size="43.97" letter-spacing="5.98" stroke="#fff" stroke-width="0.96" transform="translate(1927.11 2941.58) scale(0.7900 1)">10</text>
<text class="t" font-size="43.97" letter-spacing="6.64" stroke="#fff" stroke-width="0.96" transform="translate(1636.31 2974.38) scale(0.7900 1)">12</text>
<text class="t" font-size="43.97" stroke="#fff" stroke-width="0.96" transform="translate(1710.89 3052.28) scale(0.8690 1)">3</text>
<text class="t" font-size="43.97" stroke="#fff" stroke-width="0.96" transform="translate(410.11 3266.28) scale(0.8158 1)">8</text>
<text class="t" font-size="43.97" stroke="#fff" stroke-width="0.96" transform="translate(891.87 3334.68) scale(0.8344 1)">9</text>
<g transform="translate(140.27 2204.27) scale(0.7900 1)"><ellipse cx="62.63" cy="-18.1" rx="9.97" ry="15.74" fill="#fffbf0"/><text class="t" font-size="52.47" letter-spacing="2.14" stroke="#fff" stroke-width="1.03">1.<tspan stroke="#fffbf0">0</tspan></text></g>
<g transform="translate(138.63 2464.27) scale(0.7900 1)"><ellipse cx="14.59" cy="-18.1" rx="9.97" ry="15.74" fill="#fffbf0"/><ellipse cx="65.34" cy="-11.81" rx="8.66" ry="9.18" fill="#fffbf0"/><text class="t" font-size="52.47" letter-spacing="3.31" stroke="#fff" stroke-width="1.03"><tspan stroke="#fffbf0">0</tspan>.<tspan stroke="#fffbf0">6</tspan></text></g>
<g transform="translate(138.63 2727.27) scale(0.7900 1)"><ellipse cx="14.59" cy="-18.1" rx="9.97" ry="15.74" fill="#fffbf0"/><text class="t" font-size="52.47" letter-spacing="3.44" stroke="#fff" stroke-width="1.03"><tspan stroke="#fffbf0">0</tspan>.2</text></g>
<g transform="translate(119.28 2990.17) scale(0.7900 1)"><ellipse cx="40.04" cy="-18.1" rx="9.97" ry="15.74" fill="#fffbf0"/><text class="t" font-size="52.47" letter-spacing="2.91" stroke="#fff" stroke-width="1.03"><tspan letter-spacing="0" dy="1.84" textLength="22.54" lengthAdjust="spacingAndGlyphs">-</tspan><tspan dx="2.91" dy="-1.84"><tspan stroke="#fffbf0">0</tspan>.2</tspan></text></g>
<g transform="translate(119.28 3253.17) scale(0.7900 1)"><ellipse cx="39.95" cy="-18.1" rx="9.97" ry="15.74" fill="#fffbf0"/><ellipse cx="89.73" cy="-11.81" rx="8.66" ry="9.18" fill="#fffbf0"/><text class="t" font-size="52.47" letter-spacing="2.82" stroke="#fff" stroke-width="1.03"><tspan letter-spacing="0" dy="1.84" textLength="22.54" lengthAdjust="spacingAndGlyphs">-</tspan><tspan dx="2.82" dy="-1.84"><tspan stroke="#fffbf0">0</tspan>.<tspan stroke="#fffbf0">6</tspan></tspan></text></g>
<g transform="translate(119.28 3516.77) scale(0.7900 1)"><ellipse cx="89.1" cy="-18.1" rx="9.97" ry="15.74" fill="#fffbf0"/><text class="t" font-size="52.47" letter-spacing="2.74" stroke="#fff" stroke-width="1.03"><tspan letter-spacing="0" dy="1.84" textLength="22.54" lengthAdjust="spacingAndGlyphs">-</tspan><tspan dx="2.74" dy="-1.84">1.<tspan stroke="#fffbf0">0</tspan></tspan></text></g>
<g transform="translate(186.38 3565.02) scale(0.7900 1)"><ellipse cx="40.12" cy="-18.1" rx="9.97" ry="15.74" fill="#fffbf0"/><ellipse cx="90.24" cy="-11.81" rx="8.66" ry="9.18" fill="#fffbf0"/><text class="t" font-size="52.47" letter-spacing="2.99" stroke="#fff" stroke-width="1.03"><tspan letter-spacing="0" dy="1.84" textLength="22.54" lengthAdjust="spacingAndGlyphs">-</tspan><tspan dx="2.99" dy="-1.84"><tspan stroke="#fffbf0">0</tspan>.<tspan stroke="#fffbf0">6</tspan></tspan></text></g>
<g transform="translate(434.98 3565.02) scale(0.7900 1)"><ellipse cx="39.77" cy="-18.1" rx="9.97" ry="15.74" fill="#fffbf0"/><text class="t" font-size="52.47" letter-spacing="2.65" stroke="#fff" stroke-width="1.03"><tspan letter-spacing="0" dy="1.84" textLength="22.54" lengthAdjust="spacingAndGlyphs">-</tspan><tspan dx="2.65" dy="-1.84"><tspan stroke="#fffbf0">0</tspan>.4</tspan></text></g>
<g transform="translate(684.18 3565.02) scale(0.7900 1)"><ellipse cx="39.87" cy="-18.1" rx="9.97" ry="15.74" fill="#fffbf0"/><text class="t" font-size="52.47" letter-spacing="2.74" stroke="#fff" stroke-width="1.03"><tspan letter-spacing="0" dy="1.84" textLength="22.54" lengthAdjust="spacingAndGlyphs">-</tspan><tspan dx="2.74" dy="-1.84"><tspan stroke="#fffbf0">0</tspan>.2</tspan></text></g>
<g transform="translate(942.83 3565.02) scale(0.7900 1)"><ellipse cx="14.59" cy="-18.1" rx="9.97" ry="15.74" fill="#fffbf0"/><ellipse cx="64.84" cy="-18.1" rx="9.97" ry="15.74" fill="#fffbf0"/><text class="t" font-size="52.47" letter-spacing="3.24" stroke="#fff" stroke-width="1.03"><tspan stroke="#fffbf0">0</tspan>.<tspan stroke="#fffbf0">0</tspan></text></g>
<g transform="translate(1194.33 3565.02) scale(0.7900 1)"><ellipse cx="14.59" cy="-18.1" rx="9.97" ry="15.74" fill="#fffbf0"/><text class="t" font-size="52.47" letter-spacing="3.51" stroke="#fff" stroke-width="1.03"><tspan stroke="#fffbf0">0</tspan>.2</text></g>
<g transform="translate(1441.93 3565.02) scale(0.7900 1)"><ellipse cx="14.59" cy="-18.1" rx="9.97" ry="15.74" fill="#fffbf0"/><text class="t" font-size="52.47" letter-spacing="3.62" stroke="#fff" stroke-width="1.03"><tspan stroke="#fffbf0">0</tspan>.4</text></g>
<g transform="translate(1691.03 3565.02) scale(0.7900 1)"><ellipse cx="14.59" cy="-18.1" rx="9.97" ry="15.74" fill="#fffbf0"/><ellipse cx="66.61" cy="-11.81" rx="8.66" ry="9.18" fill="#fffbf0"/><text class="t" font-size="52.47" letter-spacing="3.95" stroke="#fff" stroke-width="1.03"><tspan stroke="#fffbf0">0</tspan>.<tspan stroke="#fffbf0">6</tspan></text></g>
<g transform="translate(1940.73 3565.02) scale(0.7900 1)"><ellipse cx="14.59" cy="-18.1" rx="9.97" ry="15.74" fill="#fffbf0"/><ellipse cx="64.72" cy="-27.55" rx="7.61" ry="6.56" fill="#fffbf0"/><ellipse cx="64.72" cy="-9.97" rx="8.66" ry="7.87" fill="#fffbf0"/><text class="t" font-size="52.47" letter-spacing="3.19" stroke="#fff" stroke-width="1.03"><tspan stroke="#fffbf0">0</tspan>.<tspan stroke="#fffbf0">8</tspan></text></g>
<g transform="translate(2191.17 3565.02) scale(0.7900 1)"><ellipse cx="62.12" cy="-18.1" rx="9.97" ry="15.74" fill="#fffbf0"/><text class="t" font-size="52.47" letter-spacing="1.88" stroke="#fff" stroke-width="1.03">1.<tspan stroke="#fffbf0">0</tspan></text></g>
<text class="tb" font-size="51.49" letter-spacing="3.24" stroke="#fff" stroke-width="0.34" transform="translate(1052.88 3653.07) scale(0.8200 1)">PC1 (32.2%)</text>
<text class="tb" font-size="51.49" letter-spacing="1.53" stroke="#fff" stroke-width="0.34" transform="translate(68.17 3009.08) rotate(-90) scale(0.9300 1)">PC2 (20.8%)</text>
</g>
<text class="cap" font-size="77" transform="translate(1093.31 3865) scale(1.0081 1)">(<tspan font-weight="bold">b</tspan>)</text>
</svg>
</body></html>
